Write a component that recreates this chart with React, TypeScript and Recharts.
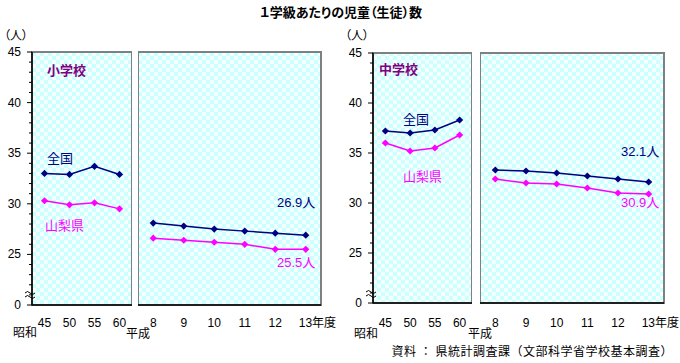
import { LineChart, Line, XAxis, YAxis, ReferenceArea } from "recharts";

const showaYears = ["45", "50", "55", "60"];
const heiseiYears = ["8", "9", "10", "11", "12", "13"];

// 小学校
const elemNationalShowa = [33.0, 32.9, 33.7, 32.9];
const elemPrefShowa = [30.3, 29.9, 30.1, 29.5];
const elemNationalHeisei = [28.1, 27.8, 27.5, 27.3, 27.1, 26.9];
const elemPrefHeisei = [26.6, 26.4, 26.2, 26.0, 25.5, 25.5];

// 中学校
const juniorNationalShowa = [37.2, 37.0, 37.3, 38.3];
const juniorPrefShowa = [36.0, 35.2, 35.5, 36.8];
const juniorNationalHeisei = [33.3, 33.2, 33.0, 32.7, 32.4, 32.1];
const juniorPrefHeisei = [32.4, 32.0, 31.9, 31.5, 31.0, 30.9];

// axis is broken below 25: value 20 is drawn as "0"
const yTicks = [20, 21, 22, 23, 24, 25, 26, 27, 28, 29, 30, 31, 32, 33, 34, 35, 36, 37, 38, 39, 40, 41, 42, 43, 44, 45];
const yTickLabels: Record<number, string> = { 20: "0", 25: "25", 30: "30", 35: "35", 40: "40", 45: "45" };

const NAVY = "#000080";
const MAGENTA = "#ff00ff";
const PURPLE = "#800080";
const JP = "'Noto Sans CJK JP', sans-serif";
const NUM = "'Liberation Sans', 'Noto Sans CJK JP', sans-serif";
const H = 363;
const YW = 32;

function rows(cats: string[], nat: number[], pref: number[]) {
  return cats.map((c, i) => ({ i, year: c, nat: nat[i], pref: pref[i] }));
}

function Diamond(props: any) {
  const { cx, cy, fill } = props;
  if (cx == null || cy == null) return null;
  const r = 3.6;
  return (
    <polygon
      points={`${cx},${cy - r} ${cx + r},${cy} ${cx},${cy + r} ${cx - r},${cy}`}
      fill={fill}
    />
  );
}

function YTick(props: any) {
  const { x, y, payload } = props;
  const label = yTickLabels[payload.value];
  const major = label !== undefined;
  return (
    <g>
      <line x1={x - (major ? 5 : 3)} x2={x} y1={y} y2={y} stroke="#000" strokeWidth={1} />
      {major && (
        <text x={x - 11} y={y} textAnchor="end" dominantBaseline="central" fontSize={12} fontFamily={NUM} fill="#000">
          {label}
        </text>
      )}
    </g>
  );
}

function makeXTick(cats: string[], baseline: number) {
  return (props: any) => {
    const { x, payload } = props;
    const v = cats[payload.value];
    if (v === "13") {
      return (
        <text x={x - 7} y={baseline} textAnchor="start" fontSize={12} fontFamily={NUM} fill="#000">
          13<tspan fontFamily={JP}>年度</tspan>
        </text>
      );
    }
    return (
      <text x={x} y={baseline} textAnchor="middle" fontSize={12} fontFamily={NUM} fill="#000">
        {v}
      </text>
    );
  };
}

interface PanelProps {
  id: string;
  x: number;
  width: number;
  top: number;
  bottom: number;
  withYAxis: boolean;
  cats: string[];
  nat: number[];
  pref: number[];
  extraRight?: number;
}

function Panel({ id, x, width, top, bottom, withYAxis, cats, nat, pref, extraRight = 0 }: PanelProps) {
  const data = rows(cats, nat, pref);
  const idx = cats.map((_, i) => i);
  const left = withYAxis ? x - YW : x;
  const w = (withYAxis ? width + YW : width) + extraRight;
  return (
    <div style={{ position: "absolute", left, top: 0 }}>
      <LineChart width={w} height={H} data={data} margin={{ top, right: extraRight, left: 0, bottom: 0 }}>
        <defs>
          <pattern id={id} width={8} height={8} patternUnits="userSpaceOnUse">
            <rect width={8} height={8} fill="#ccffff" />
            <rect width={4} height={4} fill="#f4ffff" />
            <rect x={4} y={4} width={4} height={4} fill="#f4ffff" />
          </pattern>
        </defs>
        <ReferenceArea
          x1={-0.5}
          x2={cats.length - 0.5}
          y1={20}
          y2={45}
          fill={`url(#${id})`}
          fillOpacity={1}
          stroke="#808080"
          strokeWidth={2}
          ifOverflow="visible"
        />
        <XAxis
          dataKey="i"
          type="number"
          domain={[-0.5, cats.length - 0.5]}
          ticks={idx}
          interval={0}
          allowDataOverflow
          height={H - bottom}
          tickLine={false}
          tickSize={0}
          tickMargin={0}
          axisLine={{ stroke: "#000", strokeWidth: 1.5 }}
          tick={makeXTick(cats, 327)}
        />
        <YAxis
          hide={!withYAxis}
          type="number"
          domain={[20, 45]}
          ticks={yTicks}
          interval={0}
          width={YW}
          tickLine={false}
          tickSize={0}
          tickMargin={0}
          axisLine={{ stroke: "#000", strokeWidth: 1.5 }}
          tick={<YTick />}
          allowDataOverflow
        />
        <Line
          dataKey="nat"
          stroke={NAVY}
          strokeWidth={1.5}
          dot={(p: any) => <Diamond key={`n${p.index}`} {...p} fill={NAVY} />}
          isAnimationActive={false}
        />
        <Line
          dataKey="pref"
          stroke={MAGENTA}
          strokeWidth={1.5}
          dot={(p: any) => <Diamond key={`p${p.index}`} {...p} fill={MAGENTA} />}
          isAnimationActive={false}
        />
      </LineChart>
    </div>
  );
}

function T({ x, y, children, size = 13, color = "#000", anchor = "start", bold = false, font = JP, palt = true, spacing = 0 }: any) {
  const style: any = {};
  if (palt) style.fontFeatureSettings = '"palt"';
  if (spacing) style.letterSpacing = `${spacing}px`;
  return (
    <text
      x={x}
      y={y}
      fontSize={size}
      fill={color}
      textAnchor={anchor}
      dominantBaseline="central"
      fontWeight={bold ? "bold" : "normal"}
      fontFamily={font}
      style={style}
    >
      {children}
    </text>
  );
}

export default function App() {
  return (
    <div style={{ position: "absolute", left: 0, top: 0, width: 680, height: H, background: "#fff", overflow: "hidden" }}>
      {/* 小学校 */}
      <Panel id="pe1" x={32} width={100} top={52} bottom={305} withYAxis cats={showaYears} nat={elemNationalShowa} pref={elemPrefShowa} />
      <Panel id="pe2" x={138} width={183} top={52} bottom={305} withYAxis={false} cats={heiseiYears} nat={elemNationalHeisei} pref={elemPrefHeisei} extraRight={24} />
      {/* 中学校 */}
      <Panel id="pj1" x={373} width={99} top={53} bottom={303} withYAxis cats={showaYears} nat={juniorNationalShowa} pref={juniorPrefShowa} />
      <Panel id="pj2" x={480} width={184} top={53} bottom={303} withYAxis={false} cats={heiseiYears} nat={juniorNationalHeisei} pref={juniorPrefHeisei} extraRight={16} />

      <svg width={680} height={H} style={{ position: "absolute", left: 0, top: 0, pointerEvents: "none" }}>
        <T x={341} y={11} bold anchor="middle">１学級あたりの児童（生徒）数</T>

        <T x={4} y={34} size={12}>（人）</T>
        <T x={345} y={34} size={12}>（人）</T>

        <T x={47} y={69} bold color={PURPLE}>小学校</T>
        <T x={47} y={157} color={NAVY}>全国</T>
        <T x={45} y={224} color={MAGENTA}>山梨県</T>
        <T x={277} y={202} color={NAVY} font={NUM}>26.9人</T>
        <T x={277} y={262} color={MAGENTA} font={NUM}>25.5人</T>

        <T x={379} y={68} bold color={PURPLE}>中学校</T>
        <T x={403} y={118} color={NAVY}>全国</T>
        <T x={403} y={175} color={MAGENTA}>山梨県</T>
        <T x={621} y={151} color={NAVY} font={NUM}>32.1人</T>
        <T x={621} y={202} color={MAGENTA} font={NUM}>30.9人</T>

        <T x={13} y={331} size={12}>昭和</T>
        <T x={126} y={332} size={12}>平成</T>
        <T x={354} y={332} size={12}>昭和</T>
        <T x={468} y={332} size={12}>平成</T>

        <T x={673} y={350} size={12} anchor="end" palt={false} spacing={0.5}>資料 ： 県統計調査課（文部科学省学校基本調査）</T>

        {/* axis break marks */}
        <path d="M25 293 q2.5 -3 5 0 t5 0 M25 297 q2.5 -3 5 0 t5 0" fill="none" stroke="#000" strokeWidth={1} />
        <path d="M366 292 q2.5 -3 5 0 t5 0 M366 296 q2.5 -3 5 0 t5 0" fill="none" stroke="#000" strokeWidth={1} />
      </svg>
    </div>
  );
}
